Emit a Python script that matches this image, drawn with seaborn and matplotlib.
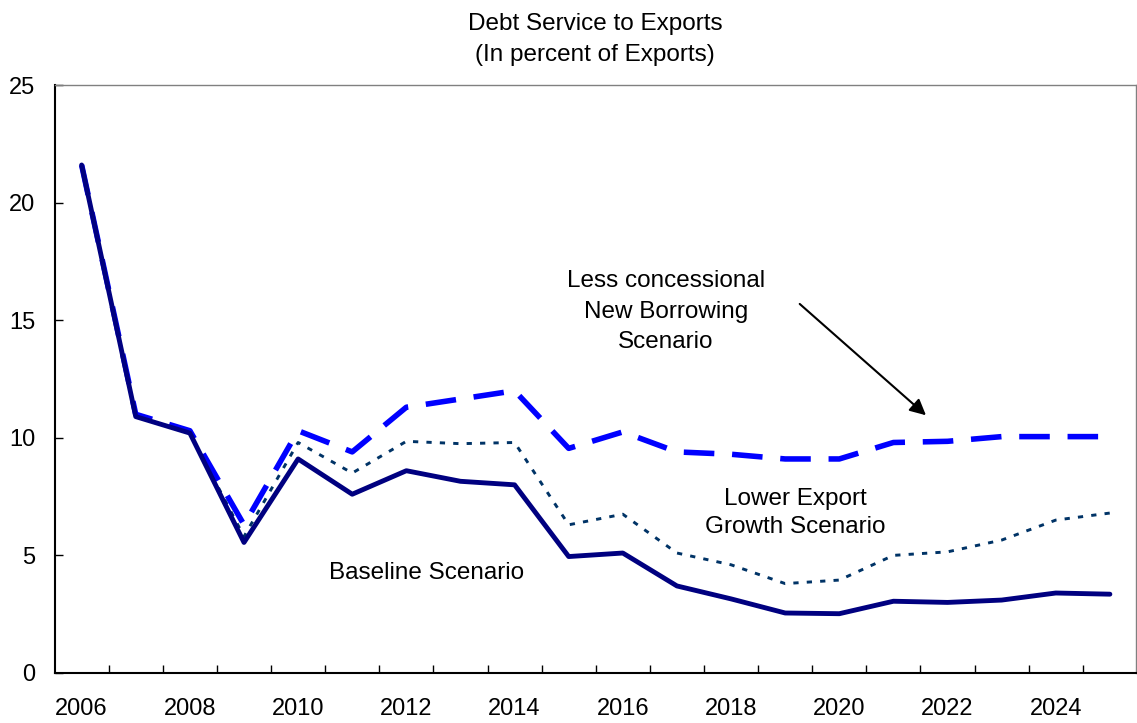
import pandas as pd
import seaborn as sns
import matplotlib
matplotlib.use("Agg")
import matplotlib.pyplot as plt
from matplotlib.ticker import FixedLocator

# Данные
years = list(range(2006, 2026))
baseline = [21.6, 10.9, 10.2, 5.55, 9.1, 7.6, 8.6, 8.15, 8.0, 4.95,
            5.1, 3.7, 3.15, 2.55, 2.52, 3.05, 3.0, 3.1, 3.4, 3.35]
lower_export = [21.6, 10.9, 10.2, 5.8, 9.8, 8.5, 9.85, 9.75, 9.8, 6.3,
                6.75, 5.1, 4.6, 3.8, 3.95, 5.0, 5.15, 5.65, 6.5, 6.8]
less_concessional = [21.6, 11.0, 10.3, 6.3, 10.3, 9.4, 11.3, 11.65, 12.0, 9.55,
                     10.25, 9.4, 9.3, 9.1, 9.1, 9.8, 9.85, 10.05, 10.05, 10.05]
year_labels = [str(y) for y in range(2006, 2026, 2)]
y_ticks = [0, 5, 10, 15, 20, 25]

df = pd.DataFrame({
    'Year': years,
    'Baseline': baseline,
    'Lower': lower_export,
    'Less': less_concessional,
})

sns.set_style('white')
plt.rcParams['font.family'] = ['Liberation Sans', 'DejaVu Sans']
plt.rcParams['text.color'] = 'black'
plt.rcParams['xtick.color'] = 'black'
plt.rcParams['ytick.color'] = 'black'

fig, ax = plt.subplots(figsize=(11.37, 7.23), dpi=100)
fig.subplots_adjust(left=0.048, right=0.999, bottom=0.0692, top=0.8824)

sns.lineplot(data=df, x='Year', y='Lower', ax=ax, color='#003366',
             linewidth=2.1)
ax.lines[-1].set_dashes((1.8, 2.8))
sns.lineplot(data=df, x='Year', y='Less', ax=ax, color='#0000FF',
             linewidth=4.0)
ax.lines[-1].set_dashes((5.5, 3.2))
sns.lineplot(data=df, x='Year', y='Baseline', ax=ax, color='#000080',
             linewidth=3.5)

ax.set_xlim(2005.5, 2025.48)
ax.set_ylim(0, 25)

ax.xaxis.set_major_locator(FixedLocator(list(range(2006, 2026, 2))))
ax.set_xticklabels(year_labels)
ax.xaxis.set_minor_locator(FixedLocator([y + 0.5 for y in range(2006, 2025)]))
ax.set_yticks(y_ticks)

ax.tick_params(axis='x', which='major', length=0, pad=18, labelsize=17)
ax.tick_params(axis='x', which='minor', direction='in', length=6, width=1,
               bottom=True)
ax.tick_params(axis='y', direction='in', length=6, width=1, pad=14,
               labelsize=17, left=True)

ax.set_xlabel('')
ax.set_ylabel('')

for side in ['left', 'bottom']:
    ax.spines[side].set_color('black')
    ax.spines[side].set_linewidth(1.5)
for side in ['top', 'right']:
    ax.spines[side].set_color('#808080')
    ax.spines[side].set_linewidth(1.0)

ax.set_title('Debt Service to Exports\n(In percent of Exports)', fontsize=17.5,
             pad=17, linespacing=1.55)

ax.text(2016.8, 15.35, 'Less concessional\nNew Borrowing\nScenario',
        ha='center', va='center', fontsize=17.5, linespacing=1.5)
ax.annotate('', xy=(2021.64, 10.88), xytext=(2019.23, 15.77),
            arrowprops=dict(arrowstyle='-|>', color='black', lw=1.5,
                            mutation_scale=24))
ax.text(2019.18, 6.8, 'Lower Export\nGrowth Scenario',
        ha='center', va='center', fontsize=17.5, linespacing=1.4)
ax.text(2012.38, 4.25, 'Baseline Scenario',
        ha='center', va='center', fontsize=17.5)

plt.savefig('out.png', dpi=100)
